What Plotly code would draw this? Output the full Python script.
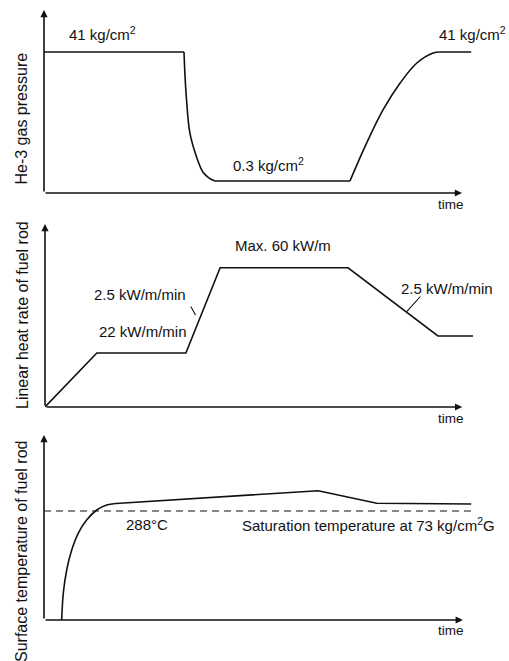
import plotly.graph_objects as go

# ---------------- data (schematic units) ----------------
# Panel 1: He-3 gas pressure (relative level, 100 = 41 kg/cm2)
p_high_t = [0, 33.5]
p_high_v = [100, 100]
p_drop_t = [33.5, 33.7, 34.1, 34.9, 36.5, 38.0, 39.5, 40.9]
p_drop_v = [100, 85, 66, 42.6, 25.5, 14.9, 10.6, 8.5]
p_low_t = [40.9, 73.2]
p_low_v = [8.5, 8.5]
p_rise_t = [73.2, 77.2, 81.1, 85.2, 89.2, 93.1, 94.7]
p_rise_v = [8.5, 35.5, 58.9, 78.0, 92.2, 99.3, 100]
p_end_t = [94.7, 102.2]
p_end_v = [100, 100]

# Panel 2: linear heat rate of fuel rod (kW/m)
heat_t = [0, 12.4, 33.7, 41.9, 72.5, 94.0, 102.4]
heat_v = [0, 23.3, 23.3, 60, 60, 30.6, 30.6]

# Panel 3: surface temperature (relative level, 100 = 288 degC saturation)
temp_curve_t = [4.23, 4.62, 5.43, 6.63, 8.21, 10.2, 12.6, 15.0, 18.2]
temp_curve_v = [0, 24.8, 45.9, 64.2, 79.8, 91.7, 100.9, 105.5, 107.1]
temp_lin_t = [18.2, 65.6, 79.6, 102.2]
temp_lin_v = [107.1, 118.6, 107.1, 106.4]
sat_t = [0, 102.4]
sat_v = [100, 100]

W, H = 509, 661
FONT = "Liberation Sans"
INK = "#111111"


def px(x):
    return x / W


def py(y):
    return 1 - y / H


fig = go.Figure()

line = dict(color=INK, width=1.6)


def add(t, v, ax, shape="linear", dash=None):
    l = dict(line)
    l["shape"] = shape
    if dash:
        l["dash"] = dash
        l["width"] = 1.1
    fig.add_trace(go.Scatter(x=t, y=v, mode="lines", line=l,
                             xaxis="x" + ax, yaxis="y" + ax,
                             hoverinfo="skip", showlegend=False))


add(p_high_t, p_high_v, "")
add(p_drop_t, p_drop_v, "", "spline")
add(p_low_t, p_low_v, "")
add(p_rise_t, p_rise_v, "", "spline")
add(p_end_t, p_end_v, "")

add(heat_t, heat_v, "2")

add(sat_t, sat_v, "3", dash="7px,5px")
add(temp_curve_t, temp_curve_v, "3", "spline")
add(temp_lin_t, temp_lin_v, "3")

hidden = dict(showline=False, showgrid=False, zeroline=False,
              showticklabels=False, ticks="", fixedrange=True)

layout = dict(
    width=W, height=H,
    margin=dict(l=0, r=0, t=0, b=0),
    paper_bgcolor="white", plot_bgcolor="white",
    showlegend=False,
    xaxis=dict(domain=[px(44), px(474)], range=[0, 102.87], anchor="y", **hidden),
    yaxis=dict(domain=[py(193), py(8)], range=[0, 131.2], anchor="x", **hidden),
    xaxis2=dict(domain=[px(45), px(475)], range=[0, 102.87], anchor="y2", **hidden),
    yaxis2=dict(domain=[py(407), py(222)], range=[0, 79.74], anchor="x2", **hidden),
    xaxis3=dict(domain=[px(44), px(474)], range=[0, 102.87], anchor="y3", **hidden),
    yaxis3=dict(domain=[py(620), py(433)], range=[0, 171.56], anchor="x3", **hidden),
)
fig.update_layout(**layout)

ann = []


def axis_arrow(xr, yr, x, y):
    ann.append(dict(xref=xr, yref=yr, axref=xr, ayref=yr, x=x, y=y, ax=0, ay=0,
                    text="", showarrow=True, arrowhead=2, arrowsize=0.9,
                    arrowwidth=1.6, arrowcolor=INK))


axis_arrow("x", "y", 100, 0)
axis_arrow("x", "y", 0, 129.8)
axis_arrow("x2", "y2", 99.8, 0)
axis_arrow("x2", "y2", 0, 78.9)
axis_arrow("x3", "y3", 100.2, 0)
axis_arrow("x3", "y3", 0, 169.7)


def label(text, x, y, size=15, xanchor="left", angle=0):
    ann.append(dict(xref="paper", yref="paper", x=px(x), y=py(y), text=text,
                    showarrow=False, xanchor=xanchor, yanchor="middle",
                    textangle=angle, font=dict(family=FONT, size=size, color=INK)))


label("41 kg/cm<sup>2</sup>", 67, 33)
label("41 kg/cm<sup>2</sup>", 437, 33)
label("0.3 kg/cm<sup>2</sup>", 231, 164)
label("time", 436, 205, size=13.5)
label("He-3 gas pressure", 21, 118.5, size=16, xanchor="center", angle=-90)

label("Max. 60 kW/m", 233, 245)
label("2.5 kW/m/min", 92, 295)
label("22 kW/m/min", 97, 331)
label("2.5 kW/m/min", 399, 288)
label("time", 436, 418, size=13.5)
label("Linear heat rate of fuel rod", 22, 315, size=16, xanchor="center", angle=-90)

label("288°C", 124, 524)
label("Saturation temperature at 73 kg/cm<sup>2</sup>G", 240, 524)
label("time", 436, 630, size=13.5)
label("Surface temperature of fuel rod", 21, 552, size=16, xanchor="center", angle=-90)


def leader(x0, y0, x1, y1):
    ann.append(dict(xref="paper", yref="paper", x=px(x1), y=py(y1),
                    ax=x0 - x1, ay=y0 - y1, text="", showarrow=True,
                    arrowhead=0, arrowwidth=1.1, arrowcolor=INK))


leader(190, 305, 195.5, 315)
leader(421.7, 295, 406.7, 311.7)

fig.update_layout(annotations=ann)
fig.write_html("out.html",
               config={"displayModeBar": False, "staticPlot": True},
               post_script="document.body.style.margin='0';"
                           "document.body.style.overflow='hidden';")
